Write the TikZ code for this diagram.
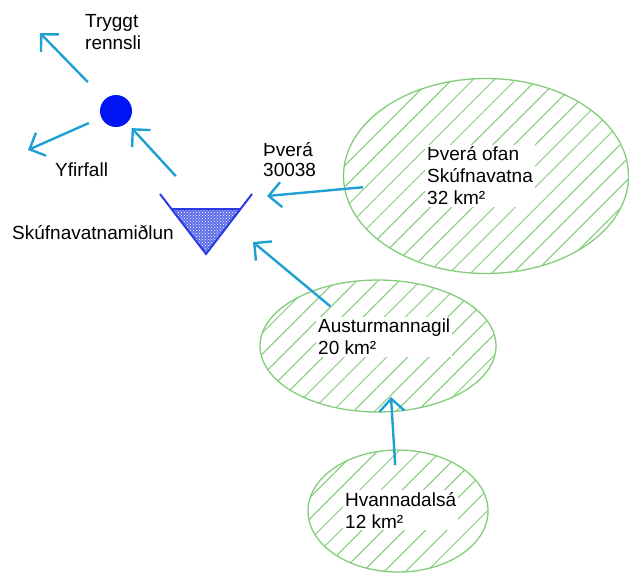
\documentclass[tikz,border=0pt]{standalone}
\usepackage{fontspec}
\setmainfont{Liberation Sans}
\usetikzlibrary{positioning, arrows.meta, shapes.geometric, patterns, patterns.meta}
\definecolor{flowblue}{RGB}{30, 160, 210}
\definecolor{dotblue}{RGB}{0, 20, 245}
\definecolor{poolblue}{RGB}{40, 60, 225}
\definecolor{areagreen}{RGB}{130, 205, 120}

\begin{document}
\begin{tikzpicture}[x=1pt, y=-1pt, font=\fontsize{19}{22}\selectfont,
    flow/.style={-{Straight Barb[length=12.5pt, width=25pt]}, line width=2.4pt, flowblue},
    area/.style={ellipse, draw=areagreen, line width=1.3pt, inner sep=0pt,
                 pattern={Lines[angle=45, distance=15pt, line width=1pt]},
                 pattern color=areagreen},
    txt/.style={align=left, anchor=west, inner sep=2pt},
    areatxt/.style={txt, fill=white}]
  \useasboundingbox (0,0) rectangle (629,574);

  % catchments
  \node[area, minimum width=285pt, minimum height=195pt] (ofan) at (486,176) {};
  \node[area, minimum width=236pt, minimum height=132pt] (aust) at (378,346) {};
  \node[area, minimum width=180pt, minimum height=122pt] (hvanna) at (398,511) {};
  \node[areatxt] (ofantxt) at (425,176) {Þverá ofan\\Skúfnavatna\\32 km²};
  \node[areatxt] (austtxt) at (316,337) {Austurmannagil\\20 km²};
  \node[areatxt] (hvannatxt) at (343,510) {Hvannadalsá\\12 km²};

  % reservoir
  \coordinate (pool) at (206,209);
  \begin{scope}[shift={(pool)}]
    \fill[poolblue!75] (-34.5,0) -- (34.5,0) -- (0,45) -- cycle;
    \fill[pattern=crosshatch dots, pattern color=white] (-34.5,0) -- (34.5,0) -- (0,45) -- cycle;
    \draw[poolblue, line width=1.5pt] (-34.5,0) -- (34.5,0);
    \draw[poolblue, line width=2pt] (-46,-15) -- (0,45) -- (46,-15);
  \end{scope}
  \node[txt] (midlun) at (10,233) {Skúfnavatnamiðlun};

  % outlet
  \node[circle, fill=dotblue, minimum size=32pt, inner sep=0pt] (dot) at (116,111) {};
  \node[txt] (tryggt) at (83,32) {Tryggt\\rennsli};
  \node[txt] (yfirfall) at (53,170) {Yfirfall};
  \node[txt, font=\fontsize{19}{20}\selectfont] (thvera) at (261,160) {Þverá\\30038};

  \coordinate (tryggtend) at (40,33);
  \coordinate (yfirend) at (28,150);
  \coordinate (inofan) at (267,196);
  \coordinate (inaust) at (253,242);
  \coordinate (inhvanna) at (391,397);

  \draw[flow, shorten <=24pt] (dot) -- (tryggtend);
  \draw[flow, shorten <=13.5pt] (dot) -- (yfirend);
  \draw[flow, shorten <=44.6pt, shorten >=7pt] (pool) -- (dot);
  \draw[flow, shorten <=123.5pt] (ofan.center) -- (inofan);
  \draw[flow, shorten <=62pt] (aust.center) -- (inaust);
  \draw[flow, shorten <=46pt] (hvanna.center) -- (inhvanna);
\end{tikzpicture}
\end{document}
